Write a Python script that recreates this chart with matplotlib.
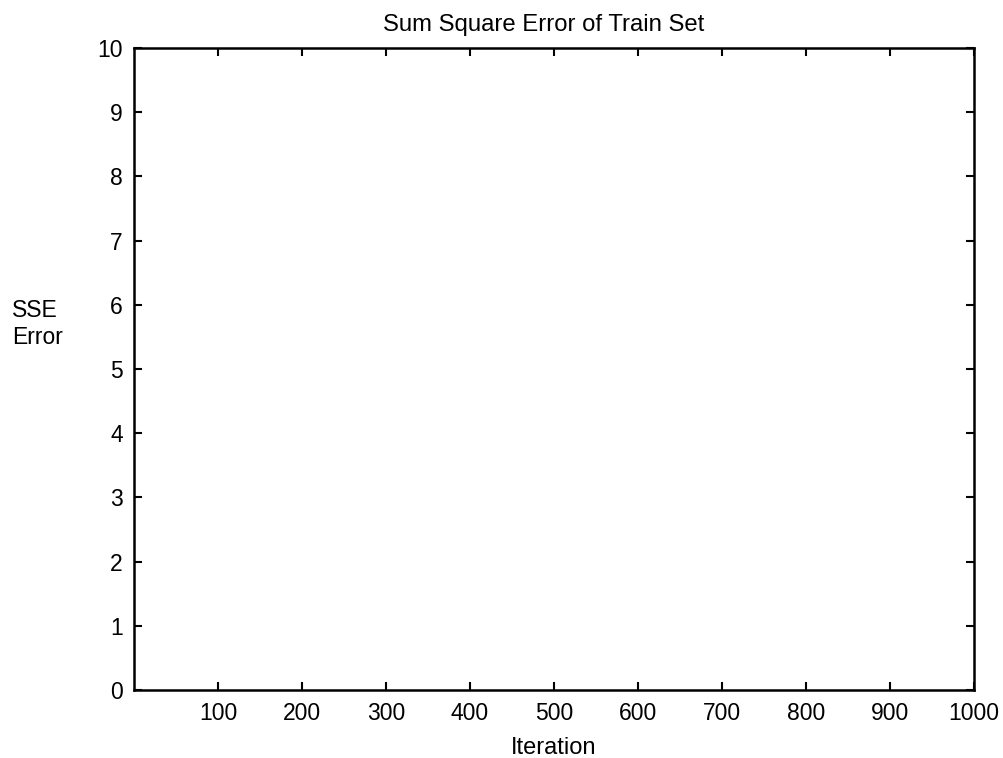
import matplotlib
matplotlib.use("Agg")
import matplotlib.pyplot as plt

plt.rcParams['font.family'] = ['Liberation Sans', 'DejaVu Sans']

# Training curve (no recorded points in this run)
iterations = []
sse_values = []

x_ticks = [100, 200, 300, 400, 500, 600, 700, 800, 900, 1000]
y_ticks = [0, 1, 2, 3, 4, 5, 6, 7, 8, 9, 10]

fig = plt.figure(figsize=(10.04, 7.58), dpi=100)
ax = fig.add_axes([134 / 1004, 1 - 690 / 758, 840 / 1004, 642 / 758])

ax.plot(iterations, sse_values, color='black', linewidth=1.5)

ax.set_xlim(0, 1000)
ax.set_ylim(0, 10)
ax.set_xticks(x_ticks)
ax.set_yticks(y_ticks)
ax.tick_params(direction='in', length=6, width=1.5, top=True, right=True,
               labelsize=16.5, colors='black')
ax.tick_params(axis='x', pad=9)
ax.tick_params(axis='y', pad=8)
for s in ax.spines.values():
    s.set_linewidth(1.8)

ax.set_title('Sum Square Error of Train Set', fontsize=17.2, pad=12, x=0.488)
ax.set_xlabel('Iteration', fontsize=17, labelpad=8)
ax.set_ylabel('SSE\nError', fontsize=16.5, rotation=0, ha='left', va='center',
              multialignment='left')
ax.yaxis.set_label_coords(-0.145, 0.57)

fig.savefig('out.png', dpi=100)
